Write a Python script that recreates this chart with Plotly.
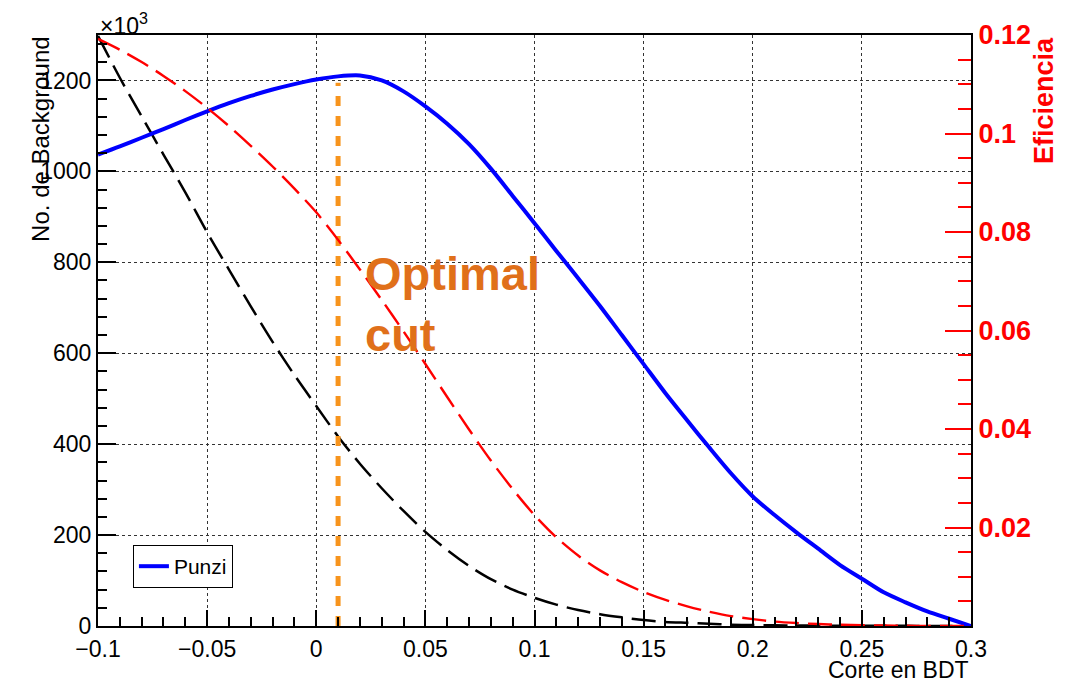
import plotly.graph_objects as go

# ---------------- data ----------------
bdt_cut = [-0.10, -0.09, -0.08, -0.07, -0.06, -0.05, -0.04, -0.03, -0.02, -0.01,
           0.00, 0.01, 0.02, 0.03, 0.04, 0.05, 0.06, 0.07, 0.08, 0.09,
           0.10, 0.11, 0.12, 0.13, 0.14, 0.15, 0.16, 0.17, 0.18, 0.19,
           0.20, 0.21, 0.22, 0.23, 0.24, 0.25, 0.26, 0.27, 0.28, 0.29, 0.30]

# Punzi figure of merit (drawn on left-axis scale, x10^3)
punzi = [1037, 1055, 1074, 1093, 1113, 1132, 1150, 1166, 1180, 1192,
         1202, 1209, 1211, 1200, 1176, 1143, 1105, 1060, 1006, 946,
         886, 825, 765, 704, 640, 576, 512, 452, 393, 336,
         285, 244, 206, 170, 134, 104, 74, 52, 32, 16, 0]

# Number of background events (x10^3)
background = [1298, 1206, 1121, 1037, 954, 866, 784, 703, 625, 552,
              484, 417, 357, 303, 253, 207, 167, 132, 103, 80,
              62, 47, 35, 26, 19, 13, 9, 7, 5, 3,
              2, 1.5, 1, 0.8, 0.6, 0.5, 0.4, 0.3, 0.2, 0.1, 0]

# Signal efficiency (right axis)
efficiency = [0.1192, 0.1170, 0.1145, 0.1117, 0.1086, 0.1052, 0.1015, 0.0975, 0.0933, 0.0888,
              0.0840, 0.0784, 0.0724, 0.0662, 0.0598, 0.0532, 0.0465, 0.0399, 0.0336, 0.0278,
              0.0225, 0.0180, 0.0143, 0.0113, 0.0089, 0.0069, 0.0053, 0.0040, 0.0029, 0.0020,
              0.0014, 0.0009, 0.0006, 0.0004, 0.00025, 0.00015, 0.0001, 0.00005, 0.00002, 0.0, 0.0]

optimal_cut = 0.01
optimal_line_y = [0, 1195]

x_tickvals = [-0.1, -0.05, 0, 0.05, 0.1, 0.15, 0.2, 0.25, 0.3]
x_ticktext = ["\u22120.1", "\u22120.05", "0", "0.05", "0.1", "0.15", "0.2", "0.25", "0.3"]
y_tickvals = [0, 200, 400, 600, 800, 1000, 1200]
y2_tickvals = [0.02, 0.04, 0.06, 0.08, 0.1, 0.12]
y2_ticktext = ["0.02", "0.04", "0.06", "0.08", "0.1", "0.12"]

FONT = "Liberation Sans, Arial, Helvetica, sans-serif"

fig = go.Figure()

fig.add_trace(go.Scatter(x=bdt_cut, y=background, mode="lines",
                         line=dict(color="black", width=2.5, dash="24px,9px",
                                   shape="spline", smoothing=0.8),
                         showlegend=False, yaxis="y"))
fig.add_trace(go.Scatter(x=bdt_cut, y=efficiency, mode="lines",
                         line=dict(color="#FF0000", width=2.4, dash="24px,9px",
                                   shape="spline", smoothing=0.8),
                         showlegend=False, yaxis="y2"))
fig.add_trace(go.Scatter(x=bdt_cut, y=punzi, mode="lines", name="Punzi",
                         line=dict(color="#0000FF", width=4, shape="spline", smoothing=0.8),
                         showlegend=True, yaxis="y"))
fig.add_trace(go.Scatter(x=[optimal_cut, optimal_cut], y=optimal_line_y, mode="lines",
                         line=dict(color="#F7941D", width=5, dash="10px,10px"),
                         showlegend=False, yaxis="y"))

fig.update_layout(
    width=1083, height=685,
    margin=dict(l=98, r=112, t=35, b=59),
    paper_bgcolor="white", plot_bgcolor="white",
    font=dict(family=FONT, color="black", size=23),
    xaxis=dict(
        range=[-0.1, 0.3], tickvals=x_tickvals, ticktext=x_ticktext,
        ticks="inside", ticklen=16, tickwidth=1.5, tickcolor="black",
        minor=dict(ticks="inside", dtick=0.01, tick0=-0.1, ticklen=9, tickwidth=1.5,
                   tickcolor="black", showgrid=False),
        showgrid=True, gridcolor="#333", griddash="dot", gridwidth=1,
        zeroline=False, showline=True, linecolor="black", linewidth=2, mirror=True,
        tickfont=dict(size=23), ticklabelstandoff=1,
    ),
    yaxis=dict(
        range=[0, 1300], tickvals=y_tickvals,
        ticks="inside", ticklen=18, tickwidth=1.5, tickcolor="black",
        minor=dict(ticks="inside", dtick=40, tick0=0, ticklen=9, tickwidth=1.5,
                   tickcolor="black", showgrid=False),
        showgrid=True, gridcolor="#333", griddash="dot", gridwidth=1,
        zeroline=False, showline=True, linecolor="black", linewidth=2, mirror=True,
        tickfont=dict(size=23),
    ),
    yaxis2=dict(
        range=[0, 0.12], overlaying="y", side="right", anchor="x",
        tickvals=y2_tickvals, ticktext=y2_ticktext,
        ticks="inside", ticklen=26, tickwidth=1.5, tickcolor="#FF0000",
        minor=dict(ticks="inside", dtick=0.005, tick0=0, ticklen=13, tickwidth=1.5,
                   tickcolor="#FF0000", showgrid=False),
        showgrid=False, zeroline=False, showline=True, linecolor="black", linewidth=2,
        tickfont=dict(size=27, color="#FF0000", weight="bold"),
    ),
    legend=dict(x=0.040, y=0.137, xanchor="left", yanchor="top",
                bordercolor="black", borderwidth=1, bgcolor="white",
                font=dict(size=21), itemwidth=30),
    showlegend=True,
)

annotations = [
    dict(text="\u00d710<sup>3</sup>", x=0, y=1, xref="paper", yref="paper",
         xanchor="left", yanchor="bottom", showarrow=False, font=dict(size=23), yshift=-6),
    dict(text="No. de Background", x=-0.066, y=1, xref="paper", yref="paper",
         xanchor="center", yanchor="top", textangle=-90, showarrow=False,
         font=dict(size=24)),
    dict(text="<b>Eficiencia</b>", x=1.083, y=1, xref="paper", yref="paper",
         xanchor="center", yanchor="top", textangle=-90, showarrow=False,
         font=dict(size=27, color="#FF0000")),
    dict(text="Corte en BDT", x=1, y=0, xref="paper", yref="paper",
         xanchor="right", yanchor="top", showarrow=False, yshift=-29,
         font=dict(size=23)),
    dict(text="<b>Optimal<br>cut</b>", x=0.304, y=0.645, xref="paper", yref="paper",
         xanchor="left", yanchor="top", align="left", showarrow=False,
         font=dict(size=47, color="#E0701A")),
]
fig.update_layout(annotations=annotations)

fig.write_html("out.html")
